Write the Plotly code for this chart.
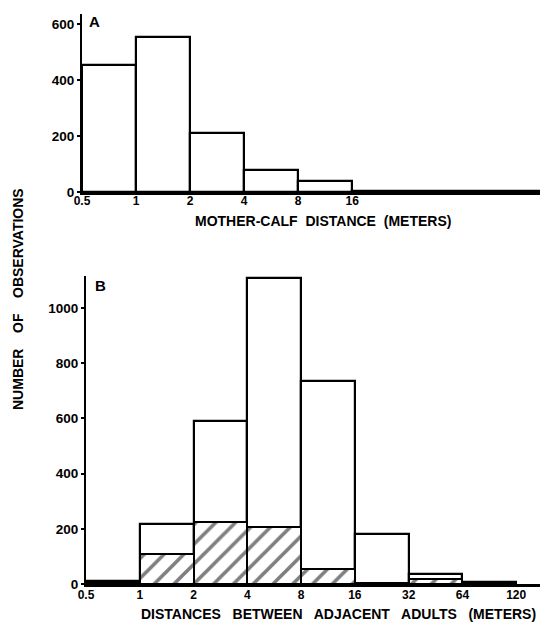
import numpy as np
import plotly.graph_objects as go
from plotly.subplots import make_subplots

# Bin edges (meters), log2 spaced
edges_a = [0.5, 1, 2, 4, 8, 16, 178]
counts_a = [455, 555, 210, 78, 38, 3]

edges_b = [0.5, 1, 2, 4, 8, 16, 32, 64, 128]
counts_b_total = [10, 218, 592, 1110, 737, 180, 37, 8]
counts_b_hatched = [4, 108, 226, 206, 55, 5, 18, 0]

tick_vals = [0.5, 1, 2, 4, 8, 16, 32, 64, 128]
tick_text_a = ["0.5", "1", "2", "4", "8", "16", "", "", ""]
tick_text_b = ["0.5", "1", "2", "4", "8", "16", "32", "64", "120"]

def centers_widths(edges):
    e = np.array(edges, dtype=float)
    return (e[:-1] + e[1:]) / 2, np.diff(e)

FONT = "Liberation Sans"

fig = make_subplots(rows=2, cols=1, vertical_spacing=0.0)

ca, wa = centers_widths(edges_a)
fig.add_trace(go.Bar(x=ca, y=counts_a, width=wa,
                     marker=dict(color="white", line=dict(color="black", width=2.2)),
                     showlegend=False), row=1, col=1)

cb, wb = centers_widths(edges_b)
fig.add_trace(go.Bar(x=cb, y=counts_b_total, width=wb,
                     marker=dict(color="white", line=dict(color="black", width=2.2)),
                     showlegend=False), row=2, col=1)
fig.add_trace(go.Bar(x=cb, y=counts_b_hatched, width=wb,
                     marker=dict(color="white", line=dict(color="black", width=2.0),
                                 pattern=dict(shape="/", fgcolor="black", bgcolor="white",
                                              size=14, solidity=0.26)),
                     showlegend=False), row=2, col=1)

H, W = 625, 546
mt, mb, ml, mr = 14, 41, 82, 6
ph = H - mt - mb
pw = W - ml - mr

def ydom(top_px, bot_px):
    return [(H - mb - bot_px) / ph, (H - mb - top_px) / ph]

def px_x(x):
    return (x - ml) / pw

def px_y(y):
    return (H - mb - y) / ph

xtickfont = dict(family=FONT, size=12, color="black", weight="bold")
ytickfont = dict(family=FONT, size=13.5, color="black", weight="bold")

fig.update_layout(
    width=W, height=H, barmode="overlay", bargap=0,
    margin=dict(l=ml, r=mr, t=mt, b=mb),
    paper_bgcolor="white", plot_bgcolor="white",
    font=dict(family=FONT, color="black", size=11),
    xaxis=dict(type="log", range=[np.log10(0.5), np.log10(178)], domain=[0, 1],
               tickvals=tick_vals, ticktext=tick_text_a, showgrid=False, zeroline=False,
               showline=True, linecolor="black", linewidth=2.5, ticks="",
               ticklabelstandoff=-4, tickfont=xtickfont),
    yaxis=dict(range=[0, 636], domain=ydom(14, 192), tickvals=[0, 200, 400, 600],
               showgrid=False, zeroline=False, showline=True, linecolor="black", linewidth=2,
               ticks="outside", ticklen=3, tickwidth=1.5, tickcolor="black",
               tickfont=ytickfont),
    xaxis2=dict(type="log", range=[np.log10(0.5), np.log10(174)],
                domain=[4 / pw, 1],
                tickvals=tick_vals, ticktext=tick_text_b, showgrid=False, zeroline=False,
                showline=True, linecolor="black", linewidth=2.5, ticks="",
                ticklabelstandoff=-2, tickfont=xtickfont),
    yaxis2=dict(range=[0, 1116], domain=ydom(276, 584), tickvals=[0, 200, 400, 600, 800, 1000],
                showgrid=False, zeroline=False, showline=True, linecolor="black", linewidth=2,
                ticks="outside", ticklen=3, tickwidth=1.5, tickcolor="black",
                tickfont=ytickfont),
)

def ann(text, x, y, size, angle=0):
    fig.add_annotation(x=px_x(x), y=px_y(y), xref="paper", yref="paper", text=text,
                       showarrow=False, textangle=angle, xanchor="center", yanchor="middle",
                       font=dict(family=FONT, size=size, color="black", weight="bold"))

ann("A", 94, 21, 15)
ann("B", 100, 285, 15)
ann("MOTHER-CALF  DISTANCE  (METERS)", 323, 221, 14)
ann("DISTANCES   BETWEEN   ADJACENT   ADULTS   (METERS)", 338, 614, 14)
ann("NUMBER    OF    OBSERVATIONS", 18, 299, 14, angle=-90)

fig.write_html("out.html")
